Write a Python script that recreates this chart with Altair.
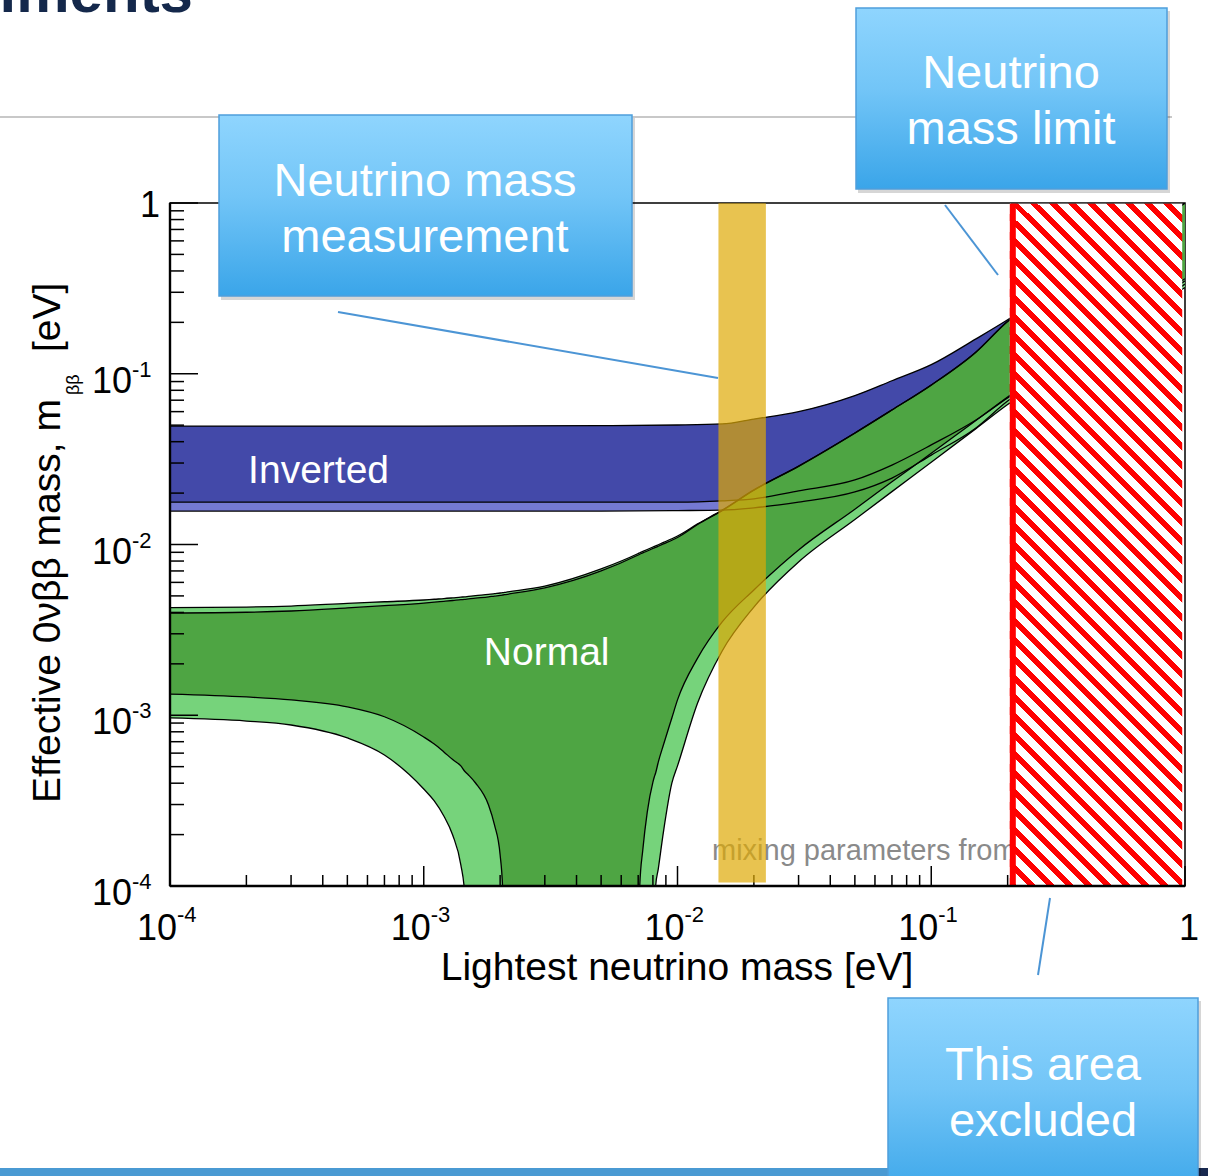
import altair as alt
import numpy as np
import pandas as pd

FONT = "Liberation Sans"

# ---------------------------------------------------------------------------
# Effective Majorana mass vs lightest neutrino mass (eV).
# 1e-6 marks points where a band edge has dropped below the bottom of the plot.
# ---------------------------------------------------------------------------
nh_mass = [1e-4, 2e-4, 3e-4, 5e-4, 7e-4, 1e-3, 1.1e-3, 1.2e-3, 1.3e-3, 1.4e-3,
           1.45e-3, 1.5e-3, 1.6e-3, 1.8e-3, 1.9e-3, 2.0e-3, 2.05e-3, 2.1e-3, 3e-3, 5e-3,
           7.0e-3, 7.1e-3, 7.3e-3, 7.6e-3, 8.0e-3, 8.1e-3, 8.2e-3, 8.4e-3, 8.8e-3, 9.5e-3,
           1e-2, 1.2e-2, 1.5e-2, 2e-2, 3e-2, 5e-2, 7e-2, 0.1, 0.15, 0.2,
           0.3, 0.5, 1.0]
nh_upper_outer = [0.00427, 0.0043, 0.00436, 0.00452, 0.00462, 0.00473, 0.00478, 0.00482, 0.00487, 0.00492,
                  0.00494, 0.00497, 0.00502, 0.0051, 0.00515, 0.0052, 0.00522, 0.00525, 0.00571, 0.0072,
                  0.00886, 0.00895, 0.00911, 0.00935, 0.00967, 0.00975, 0.00981, 0.00997, 0.01029, 0.01081,
                  0.01121, 0.0132, 0.0159, 0.0209, 0.0288, 0.045, 0.0614, 0.086, 0.134, 0.203,
                  0.30, 0.50, 1.0]
nh_upper_inner = [0.00397, 0.00401, 0.00408, 0.00425, 0.00438, 0.00454, 0.0046, 0.00465, 0.0047, 0.00475,
                  0.00477, 0.0048, 0.00485, 0.00494, 0.00499, 0.00503, 0.00506, 0.00509, 0.00557, 0.0070,
                  0.00868, 0.00877, 0.00893, 0.00916, 0.00948, 0.00956, 0.00961, 0.00977, 0.01008, 0.01059,
                  0.01099, 0.0131, 0.0158, 0.0208, 0.0287, 0.0449, 0.0613, 0.0858, 0.1338, 0.2025,
                  0.2995, 0.4995, 0.999]
nh_lower_inner = [0.00133, 0.00128, 0.00123, 0.00112, 0.00098, 0.000746, 0.000678, 0.00061, 0.00055, 0.000505,
                  0.00047, 0.000447, 0.000401, 0.000298, 0.000228, 0.000152, 0.00009, 1e-6, 1e-6, 1e-6,
                  1e-6, 0.0001, 0.000163, 0.000271, 0.000406, 0.000435, 0.000459, 0.000532, 0.00067, 0.000964,
                  0.00123, 0.00216, 0.00352, 0.00542, 0.0093, 0.0161, 0.0233, 0.0342, 0.0532, 0.0731,
                  0.11, 0.185, 0.36]
nh_lower_outer = [0.000964, 0.000925, 0.000877, 0.000736, 0.000585, 0.00037, 0.000315, 0.000257, 0.000199, 0.000133,
                  0.00009, 1e-6, 1e-6, 1e-6, 1e-6, 1e-6, 1e-6, 1e-6, 1e-6, 1e-6,
                  1e-6, 1e-6, 1e-6, 1e-6, 1e-6, 1e-6, 0.0001, 0.000126, 0.000207, 0.0004,
                  0.000505, 0.00118, 0.00238, 0.0043, 0.0079, 0.014, 0.0204, 0.0303, 0.0477, 0.066,
                  0.098, 0.165, 0.32]

ih_mass = [1e-4, 1e-3, 5e-3, 1e-2, 1.5e-2, 2e-2, 3e-2, 5e-2, 7e-2, 0.1, 0.15, 0.2, 0.3, 0.5, 1.0]
ih_upper = [0.0494, 0.0494, 0.0497, 0.0501, 0.0508, 0.0543, 0.060, 0.0745, 0.091, 0.113, 0.160, 0.207, 0.31, 0.51, 1.0]
ih_lower_inner = [0.0177, 0.0177, 0.0177, 0.0177, 0.0180, 0.0185, 0.0206, 0.0239, 0.0292, 0.0383, 0.0536, 0.0722, 0.105, 0.175, 0.35]
ih_lower_outer = [0.0157, 0.0157, 0.0157, 0.0158, 0.0159, 0.0164, 0.0177, 0.0203, 0.0245, 0.0334, 0.0481, 0.0692, 0.10, 0.168, 0.335]

region_names = ["Inverted", "Normal"]
region_mass = [3.85e-4, 3.05e-3]
region_mbb = [0.0229, 0.00197]

measurement_range = [0.0145, 0.0223]   # lightest mass from a direct measurement
mass_limit = [0.204, 0.975]            # excluded lightest masses

decades = [1e-4, 1e-3, 1e-2, 1e-1]
decade_exponents = ["-4", "-3", "-2", "-1"]
minor_ticks = [k * d for d in decades for k in range(2, 10)]

# ---------------------------------------------------------------------------
# Geometry and styles
# ---------------------------------------------------------------------------
LEFT, TOP = 170, 203
PLOT_W, PLOT_H = 1015, 683
CANVAS_W, CANVAS_H = 1208, 1176


def px(x):
    return x - LEFT


def py(y):
    return y - TOP


IH_DARK, IH_LIGHT = "#4349a9", "#7479d2"
NH_DARK, NH_LIGHT = "#4ea543", "#76d37b"
CALLOUT_LINE = "#4c95d5"

xs = alt.Scale(type="log", domain=[1e-4, 1.0], nice=False)
ys = alt.Scale(type="log", domain=[1e-4, 1.0], nice=False)
one = pd.DataFrame({"k": [0]})

nh = pd.DataFrame({"m": nh_mass, "uo": nh_upper_outer, "ui": nh_upper_inner,
                   "li": nh_lower_inner, "lo": nh_lower_outer})
ih = pd.DataFrame({"m": ih_mass, "u": ih_upper, "li": ih_lower_inner, "lo": ih_lower_outer})


def band(df, lo, hi, color):
    return alt.Chart(df).mark_area(color=color, opacity=1, interpolate="monotone", clip=True).encode(
        x=alt.X("m:Q", scale=xs, axis=None),
        y=alt.Y(f"{lo}:Q", scale=ys, axis=None),
        y2=alt.Y2(f"{hi}:Q"),
    )


layers = []

# faint legend text, partly hidden by the bands and the exclusion hatch
layers.append(alt.Chart(one).mark_text(
    text="mixing parameters from", font=FONT, fontSize=29, color="#8a8a8a",
    align="left", baseline="alphabetic", clip=True
).encode(x=alt.value(px(712)), y=alt.value(py(860))))

# bands
layers += [
    band(ih, "lo", "u", IH_LIGHT),
    band(ih, "li", "u", IH_DARK),
    band(nh, "lo", "uo", NH_LIGHT),
    band(nh, "li", "ui", NH_DARK),
]

# band outlines
curves = {
    "ih_upper": (ih_mass, ih_upper), "ih_lower_inner": (ih_mass, ih_lower_inner),
    "ih_lower_outer": (ih_mass, ih_lower_outer),
    "nh_upper_outer": (nh_mass, nh_upper_outer), "nh_upper_inner": (nh_mass, nh_upper_inner),
    "nh_lower_inner": (nh_mass, nh_lower_inner), "nh_lower_outer": (nh_mass, nh_lower_outer),
}
rows = [{"m": m, "v": v, "curve": name} for name, (ms, vs) in curves.items() for m, v in zip(ms, vs)]
layers.append(alt.Chart(pd.DataFrame(rows)).mark_line(
    color="black", strokeWidth=1.3, interpolate="monotone", clip=True
).encode(
    x=alt.X("m:Q", scale=xs, axis=None),
    y=alt.Y("v:Q", scale=ys, axis=None),
    detail="curve:N",
))

# region labels
layers.append(alt.Chart(pd.DataFrame({"name": region_names, "m": region_mass, "v": region_mbb})).mark_text(
    font=FONT, fontSize=39, color="white", align="center", baseline="alphabetic"
).encode(
    x=alt.X("m:Q", scale=xs, axis=None),
    y=alt.Y("v:Q", scale=ys, axis=None),
    text="name:N",
))

# ticks (pointing into the plot)
layers.append(alt.Chart(pd.DataFrame({"t": decades + [1.0]})).mark_rule(color="black", strokeWidth=1.5).encode(
    x=alt.X("t:Q", scale=xs, axis=None), y=alt.value(PLOT_H), y2=alt.value(PLOT_H - 20)))
layers.append(alt.Chart(pd.DataFrame({"t": minor_ticks})).mark_rule(color="black", strokeWidth=1.5).encode(
    x=alt.X("t:Q", scale=xs, axis=None), y=alt.value(PLOT_H), y2=alt.value(PLOT_H - 11)))
layers.append(alt.Chart(pd.DataFrame({"t": decades + [1.0]})).mark_rule(color="black", strokeWidth=1.5).encode(
    y=alt.Y("t:Q", scale=ys, axis=None), x=alt.value(0), x2=alt.value(28)))
layers.append(alt.Chart(pd.DataFrame({"t": minor_ticks})).mark_rule(color="black", strokeWidth=1.5).encode(
    y=alt.Y("t:Q", scale=ys, axis=None), x=alt.value(0), x2=alt.value(14)))

# measurement band
layers.append(alt.Chart(pd.DataFrame({"lo": [measurement_range[0]], "hi": [measurement_range[1]],
                                      "top": [0.995], "bot": [1.05e-4]})).mark_rect(
    color="#dea905", opacity=0.7
).encode(
    x=alt.X("lo:Q", scale=xs, axis=None), x2="hi:Q",
    y=alt.Y("top:Q", scale=ys, axis=None), y2="bot:Q",
))

# excluded region: diagonal red hatch built from a striped linear gradient
w_px = np.log10(mass_limit[1] / mass_limit[0]) * PLOT_W / 4.0
h_px = float(PLOT_H)
k = (w_px + h_px) / (w_px ** 2 + h_px ** 2)
n_stripes = int(round((w_px + h_px) / 19.0))
stops = []
for i in range(n_stripes):
    a, b, c = i / n_stripes, (i + 0.4) / n_stripes, (i + 1) / n_stripes
    stops += [{"offset": a, "color": "#ff0000"}, {"offset": b, "color": "#ff0000"},
              {"offset": b, "color": "#ffffff"}, {"offset": c, "color": "#ffffff"}]
hatch_fill = {"gradient": "linear", "x1": 0, "y1": 1,
              "x2": float(w_px * k), "y2": float(1 - h_px * k), "stops": stops}
limit_df = pd.DataFrame({"lo": [mass_limit[0]], "hi": [mass_limit[1]], "top": [0.99], "bot": [1e-4]})
layers.append(alt.Chart(limit_df).mark_rect(fill=hatch_fill).encode(
    x=alt.X("lo:Q", scale=xs, axis=None), x2="hi:Q",
    y=alt.Y("top:Q", scale=ys, axis=None), y2="bot:Q",
))
layers.append(alt.Chart(limit_df).mark_rule(color="#ff0000", strokeWidth=6, xOffset=3).encode(
    x=alt.X("lo:Q", scale=xs, axis=None),
    y=alt.Y("top:Q", scale=ys, axis=None), y2="bot:Q",
))

# frame (left and bottom heavier)
layers.append(alt.Chart(one).mark_rule(color="black", strokeWidth=2.4).encode(
    x=alt.value(0), y=alt.value(0), y2=alt.value(PLOT_H)))
layers.append(alt.Chart(one).mark_rule(color="black", strokeWidth=2.4).encode(
    x=alt.value(0), x2=alt.value(PLOT_W), y=alt.value(PLOT_H)))

# tick labels
lab = pd.DataFrame({"t": decades, "sup": decade_exponents})
layers.append(alt.Chart(lab).mark_text(text="10", font=FONT, fontSize=36, align="right", baseline="alphabetic", dy=19).encode(
    y=alt.Y("t:Q", scale=ys, axis=None), x=alt.value(-38)))
layers.append(alt.Chart(lab).mark_text(font=FONT, fontSize=22, align="left", baseline="alphabetic", dy=3).encode(
    y=alt.Y("t:Q", scale=ys, axis=None), x=alt.value(-38), text="sup:N"))
layers.append(alt.Chart(pd.DataFrame({"t": [1.0]})).mark_text(text="1", font=FONT, fontSize=36, align="right", baseline="alphabetic", dy=14).encode(
    y=alt.Y("t:Q", scale=ys, axis=None), x=alt.value(-10)))
layers.append(alt.Chart(lab).mark_text(text="10", font=FONT, fontSize=36, align="right", baseline="alphabetic", dx=7).encode(
    x=alt.X("t:Q", scale=xs, axis=None), y=alt.value(PLOT_H + 54)))
layers.append(alt.Chart(lab).mark_text(font=FONT, fontSize=22, align="left", baseline="alphabetic", dx=7).encode(
    x=alt.X("t:Q", scale=xs, axis=None), y=alt.value(PLOT_H + 36), text="sup:N"))
layers.append(alt.Chart(pd.DataFrame({"t": [1.0]})).mark_text(text="1", font=FONT, fontSize=36, align="center", baseline="alphabetic", dx=4).encode(
    x=alt.X("t:Q", scale=xs, axis=None), y=alt.value(PLOT_H + 54)))

# axis titles
layers.append(alt.Chart(one).mark_text(text="Lightest neutrino mass [eV]", font=FONT, fontSize=39,
                                       align="center", baseline="alphabetic").encode(
    x=alt.value(px(677)), y=alt.value(py(980))))
layers.append(alt.Chart(one).mark_text(text="Effective 0νββ mass, m", font=FONT, fontSize=39, angle=270,
                                       align="left", baseline="alphabetic").encode(
    x=alt.value(px(60)), y=alt.value(py(803))))
layers.append(alt.Chart(one).mark_text(text="ββ", font=FONT, fontSize=18, angle=270,
                                       align="left", baseline="alphabetic").encode(
    x=alt.value(px(79)), y=alt.value(py(395))))
layers.append(alt.Chart(one).mark_text(text="[eV]", font=FONT, fontSize=39, angle=270,
                                       align="left", baseline="alphabetic").encode(
    x=alt.value(px(60)), y=alt.value(py(352))))

# ---------------------------------------------------------------------------
# Slide decorations: title, rule, footer bar, callouts
# ---------------------------------------------------------------------------
layers.append(alt.Chart(one).mark_text(text="Neutrino mass experiments", font=FONT, fontSize=60,
                                       fontWeight="bold", color="#14284b", align="right",
                                       baseline="alphabetic").encode(
    x=alt.value(px(193)), y=alt.value(py(12))))
layers.append(alt.Chart(one).mark_rule(color="#c8c8c8", strokeWidth=2).encode(
    x=alt.value(px(0)), x2=alt.value(px(1172)), y=alt.value(py(117))))
layers.append(alt.Chart(one).mark_rect(color="#4a9ad3").encode(
    x=alt.value(px(0)), x2=alt.value(px(1198)), y=alt.value(py(1168)), y2=alt.value(py(1176))))
layers.append(alt.Chart(one).mark_rect(color="#18294f").encode(
    x=alt.value(px(1198)), x2=alt.value(px(1208)), y=alt.value(py(1168)), y2=alt.value(py(1176))))

connectors = [((338, 312), (718, 378)), ((945, 205), (998, 275)), ((1050, 898), (1038, 975))]
for (x0, y0), (x1, y1) in connectors:
    layers.append(alt.Chart(one).mark_rule(color=CALLOUT_LINE, strokeWidth=2).encode(
        x=alt.value(px(x0)), y=alt.value(py(y0)), x2=alt.value(px(x1)), y2=alt.value(py(y1))))

box_fill = {"gradient": "linear", "x1": 0, "y1": 0, "x2": 0, "y2": 1,
            "stops": [{"offset": 0, "color": "#8fd5fe"}, {"offset": 0.45, "color": "#72c5f7"},
                      {"offset": 1, "color": "#3aa5e9"}]}
callouts = [
    ((219, 115, 632, 296), ("Neutrino mass", "measurement"), 425, 196),
    ((856, 8, 1167, 189), ("Neutrino", "mass limit"), 1011, 88),
    ((888, 998, 1198, 1200), ("This area", "excluded"), 1043, 1080),
]
for (x0, y0, x1, y1), lines, cx, base in callouts:
    layers.append(alt.Chart(one).mark_rect(color="black", opacity=0.16).encode(
        x=alt.value(px(x0 + 2)), x2=alt.value(px(x1 + 3)), y=alt.value(py(y0 + 3)), y2=alt.value(py(y1 + 4))))
    layers.append(alt.Chart(one).mark_rect(fill=box_fill, stroke="#4f9fdb", strokeWidth=1.5).encode(
        x=alt.value(px(x0)), x2=alt.value(px(x1)), y=alt.value(py(y0)), y2=alt.value(py(y1))))
    for j, line in enumerate(lines):
        layers.append(alt.Chart(one).mark_text(text=line, font=FONT, fontSize=47, color="white",
                                               align="center", baseline="alphabetic").encode(
            x=alt.value(px(cx)), y=alt.value(py(base + 56 * j))))

chart = alt.layer(*layers).properties(
    width=PLOT_W, height=PLOT_H,
    padding={"left": LEFT, "top": TOP, "right": CANVAS_W - LEFT - PLOT_W, "bottom": CANVAS_H - TOP - PLOT_H},
    autosize=alt.AutoSizeParams(type="none"),
    background="white",
).configure_view(stroke="black", strokeWidth=1.5)

chart.save("out.html", embed_options={"renderer": "svg", "actions": False})
